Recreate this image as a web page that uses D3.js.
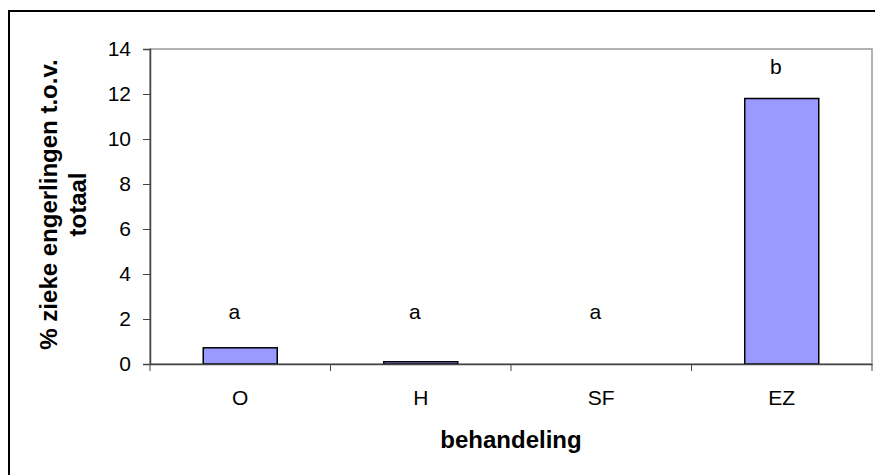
<!DOCTYPE html>
<html lang="nl">
<head>
<meta charset="UTF-8">
<script src="https://cdnjs.cloudflare.com/ajax/libs/d3/7.8.5/d3.min.js"></script>
<style>
    body { margin: 0; background: #fff; }
    svg { display: block; font-family: "Liberation Sans", Arial, sans-serif; }
</style>
</head>
<body>
<div id="chart"></div>
<script>
    // data
    const categories = ["O", "H", "SF", "EZ"];
    const values = [0.72, 0.1, 0, 11.8];
    const letters = ["a", "a", "a", "b"];
    const letterLevels = [2.0, 2.0, 2.0, 12.9];
    const yTicks = [0, 2, 4, 6, 8, 10, 12, 14];

    const width = 875, height = 475;
    const plot = { left: 150, top: 49, right: 872, bottom: 364 };
    const font = "Liberation Sans, Arial, sans-serif";

    const svg = d3.select("#chart").append("svg")
        .attr("width", width)
        .attr("height", height);

    // outer frame (cut off on right/bottom like the original)
    svg.append("rect")
        .attr("x", 9).attr("y", 11)
        .attr("width", 900).attr("height", 500)
        .attr("fill", "none")
        .attr("stroke", "#000")
        .attr("stroke-width", 2);

    const x = d3.scaleBand()
        .domain(categories)
        .range([plot.left, plot.right]);

    const y = d3.scaleLinear()
        .domain([0, 14])
        .range([plot.bottom, plot.top]);

    // plot area border
    svg.append("rect")
        .attr("x", plot.left).attr("y", plot.top)
        .attr("width", plot.right - plot.left)
        .attr("height", plot.bottom - plot.top)
        .attr("fill", "none")
        .attr("stroke", "#999")
        .attr("stroke-width", 1.5);

    const barW = x.bandwidth() * 0.41;
    svg.append("g").selectAll("rect")
        .data(categories)
        .enter().append("rect")
        .attr("x", d => x(d) + x.bandwidth() / 2 - barW / 2)
        .attr("y", (d, i) => y(values[i]))
        .attr("width", barW)
        .attr("height", (d, i) => y(0) - y(values[i]))
        .attr("fill", "#9999ff")
        .attr("stroke", "#000")
        .attr("stroke-width", (d, i) => values[i] > 0 ? 1.5 : 0);

    // y axis
    const yAxis = svg.append("g")
        .attr("transform", `translate(${plot.left},0)`)
        .call(d3.axisLeft(y).tickValues(yTicks).tickSize(7).tickPadding(12).tickFormat(d3.format("d")));
    yAxis.select(".domain").attr("stroke", "#444").attr("stroke-width", 1.5);
    yAxis.selectAll(".tick line").attr("stroke", "#444");
    yAxis.selectAll("text").attr("font-size", 21).attr("fill", "#000").attr("font-family", font);

    // x axis
    const xAxis = svg.append("g")
        .attr("transform", `translate(0,${plot.bottom})`)
        .call(d3.axisBottom(x).tickSize(0).tickPadding(26));
    xAxis.select(".domain").attr("stroke", "#444").attr("stroke-width", 1.5);
    xAxis.selectAll("text").attr("font-size", 21).attr("fill", "#000").attr("font-family", font);

    // category separators on x axis
    const bounds = categories.map(c => x(c)).concat([plot.right]);
    svg.append("g").selectAll("line")
        .data(bounds)
        .enter().append("line")
        .attr("x1", d => d).attr("x2", d => d)
        .attr("y1", plot.bottom).attr("y2", plot.bottom + 7)
        .attr("stroke", "#444");

    // significance letters
    svg.append("g").selectAll("text")
        .data(categories)
        .enter().append("text")
        .attr("x", d => x(d) + x.bandwidth() / 2 - 6)
        .attr("y", (d, i) => y(letterLevels[i]))
        .attr("text-anchor", "middle")
        .attr("font-size", 21)
        .text((d, i) => letters[i]);

    // axis titles
    svg.append("text")
        .attr("x", (plot.left + plot.right) / 2)
        .attr("y", 448)
        .attr("text-anchor", "middle")
        .attr("font-size", 24)
        .attr("font-weight", "bold")
        .text("behandeling");

    const yTitle = svg.append("text")
        .attr("transform", `translate(57,${(plot.top + plot.bottom) / 2 - 2}) rotate(-90)`)
        .attr("text-anchor", "middle")
        .attr("font-size", 24)
        .attr("font-weight", "bold");
    yTitle.append("tspan").attr("x", 0).attr("dy", 0).text("% zieke engerlingen t.o.v.");
    yTitle.append("tspan").attr("x", 0).attr("dy", 29).text("totaal");
</script>
</body>
</html>
